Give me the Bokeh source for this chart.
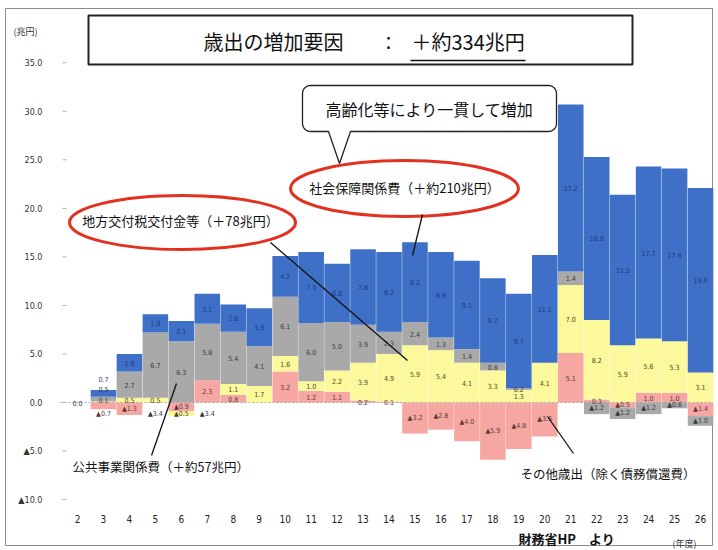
import numpy as np
from bokeh.plotting import figure
from bokeh.models import ColumnDataSource, Range1d, Span
from bokeh.core.properties import value
from bokeh.embed import file_html
from bokeh.resources import INLINE

# ---- data (兆円, change from 平成2年度) ----
years = list(range(2, 27))
other_exp = [0, -0.7, -1.3, 0, -0.9, 2.3, 0.8, 0, 3.2, 1.2, 1.1, 0.2, 0.1,
             -3.2, -2.8, -4.0, -5.9, -4.8, -3.5, 5.1, 0.3, -0.5, 1.0, 1.0, -1.4]
local_tax = [0, 0.1, 0.5, 0.5, -0.5, 0, 1.1, 1.7, 1.6, 1.0, 2.2, 3.9, 4.9,
             5.9, 5.4, 4.1, 3.3, 1.3, 4.1, 7.0, 8.2, 5.9, 5.6, 5.3, 3.1]
public_works = [0, 0.5, 2.7, 6.7, 6.3, 5.8, 5.4, 4.1, 6.1, 6.0, 5.0, 3.9, 2.3,
                2.4, 1.3, 1.4, 0.8, 0.2, 0, 1.4, -1.2, -1.2, -1.2, -0.6, -1.0]
social_security = [0, 0.7, 1.8, 1.9, 2.1, 3.1, 2.8, 3.9, 4.2, 7.3, 6.0, 7.8, 8.2,
                   8.2, 8.8, 9.1, 8.7, 9.7, 11.1, 17.2, 16.8, 15.5, 17.7, 17.8, 19.0]
# printed notes that have no bar of their own
note_years = [5, 7]
note_values = [-3.4, -3.4]

y_ticks = [-10, -5, 0, 5, 10, 15, 20, 25, 30, 35]
y_tick_labels = ["▲10.0", "▲5.0", "0.0", "5.0", "10.0", "15.0", "20.0", "25.0", "30.0", "35.0"]
x_tick_labels = [str(y) for y in years]

# ---- styling ----
BLUE, GRAY, YELLOW, PINK = "#3d70c6", "#a9a9a9", "#fbf99c", "#f7a7a2"
RED = "#e2321f"
JP = value("Noto Sans CJK JP")
NARROW = value("'Liberation Sans Narrow', 'DejaVu Sans Condensed', 'Roboto', sans-serif")

W, H = 718, 550
XS, YS = 25.96, 9.707          # canvas pixels per year / per 兆円
x0 = 2 - 77 / XS               # year 2 sits 77 px from the left edge
ZERO_PX = 402                  # zero line, px from the top


def dx(px):
    return x0 + px / XS


def dy(py):
    return (ZERO_PX - py) / YS


# the frame fills the whole canvas; scale labels are drawn as text in data space
p = figure(width=W, height=H, output_backend="svg", toolbar_location=None,
           x_range=Range1d(dx(0), dx(W)), y_range=Range1d(dy(H), dy(0)),
           min_border=0)
p.axis.visible = False
p.outline_line_color = None
p.grid.visible = False
p.background_fill_color = "white"
p.border_fill_color = "white"

# outer frame line
p.quad(left=[dx(5)], right=[dx(712)], top=[dy(8)], bottom=[dy(545)],
       fill_color=None, line_color="#8c8c8c", line_width=1)

# ---- stacked segments ----
series = [("other", other_exp, PINK, "#5a3a3a"),
          ("local", local_tax, YELLOW, "#4a4a2a"),
          ("public", public_works, GRAY, "#3a3a3a"),
          ("social", social_security, BLUE, "#1d3a80")]
label_y_override = {(3, "local"): 0.25, (3, "public"): 1.4, (3, "social"): 2.4,
                    (3, "other"): -1.15}

seg = dict(x=[], bottom=[], top=[], color=[])
lab = dict(x=[], y=[], text=[], color=[])
for i, yr in enumerate(years):
    pos, neg = 0.0, 0.0
    if all(s[1][i] == 0 for s in series):
        lab["x"].append(yr); lab["y"].append(0.0)
        lab["text"].append("0.0"); lab["color"].append("#3a3a3a")
        continue
    for name, vals, col, tcol in series:
        v = vals[i]
        if v == 0:
            continue
        if v > 0:
            b, t = pos, pos + v
            pos = t
        else:
            b, t = neg + v, neg
            neg = b
        seg["x"].append(yr); seg["bottom"].append(b); seg["top"].append(t)
        seg["color"].append(col)
        lab["x"].append(yr)
        lab["y"].append(label_y_override.get((yr, name), (b + t) / 2))
        lab["text"].append(("▲" if v < 0 else "") + f"{abs(v):.1f}")
        lab["color"].append(tcol)

p.vbar(x="x", width=0.985, bottom="bottom", top="top", fill_color="color",
       line_color=None, source=ColumnDataSource(seg))

# dotted zero line across the bar area
p.line([dx(60), dx(712)], [0, 0], line_color="#8a8a8a", line_width=1,
       line_dash="2 2", line_alpha=0.7)

p.text(x="x", y="y", text="text", text_color="color", source=ColumnDataSource(lab),
       text_font=NARROW, text_font_size="7px", text_align="center",
       text_baseline="middle")
p.text(x=note_years, y=[-1.15] * len(note_years),
       text=["▲" + f"{abs(v):.1f}" for v in note_values],
       text_font=NARROW, text_font_size="7px", text_align="center",
       text_baseline="middle", text_color="#333333")

# ---- value scale (left) and fiscal years (bottom) ----
p.segment(x0=[dx(62)] * len(y_ticks), x1=[dx(66)] * len(y_ticks), y0=y_ticks, y1=y_ticks,
          line_color="#b0b0b0", line_width=1)
p.text(x=[dx(42)] * len(y_ticks), y=y_ticks, text=y_tick_labels, text_font=NARROW,
       text_font_size="9px", text_align="right", text_baseline="middle",
       text_color="#333333")
p.text(x=years, y=[dy(518)] * len(years), text=x_tick_labels, text_font=NARROW,
       text_font_size="10px", text_align="center", text_baseline="middle",
       text_color="#222222")

# ---- title box ----
p.quad(left=[dx(88)], right=[dx(632)], top=[dy(15)], bottom=[dy(64)],
       fill_color="white", line_color="#222222", line_width=2)
p.text(x=[dx(203)], y=[dy(41)], text=["歳出の増加要因"], text_font=JP,
       text_font_size="20px", text_baseline="middle", text_color="#111111")
p.text(x=[dx(388)], y=[dy(41)], text=["："], text_font=JP, text_align="center",
       text_font_size="18px", text_baseline="middle", text_color="#111111")
p.text(x=[dx(411)], y=[dy(41)], text=["＋約334兆円"], text_font=JP,
       text_font_size="20px", text_baseline="middle", text_color="#111111")
p.line([dx(410), dx(525)], [dy(60), dy(60)], line_color="#111111", line_width=1.5)

# ---- speech bubble ----
l, t, r, b, rad = 302, 85, 556, 131, 8
pts = []
for cx, cy, a0, a1 in [(r - rad, t + rad, -90, 0), (r - rad, b - rad, 0, 90)]:
    for a in np.linspace(np.radians(a0), np.radians(a1), 8):
        pts.append((cx + rad * np.cos(a), cy + rad * np.sin(a)))
pts += [(350, b), (339, 163), (328, b)]
for cx, cy, a0, a1 in [(l + rad, b - rad, 90, 180), (l + rad, t + rad, 180, 270)]:
    for a in np.linspace(np.radians(a0), np.radians(a1), 8):
        pts.append((cx + rad * np.cos(a), cy + rad * np.sin(a)))
p.patch([dx(a) for a, _ in pts], [dy(c) for _, c in pts], fill_color="white",
        line_color="#222222", line_width=1.3)
p.text(x=[dx(429)], y=[dy(108)], text=["高齢化等により一貫して増加"], text_font=JP,
       text_font_size="16px", text_align="center", text_baseline="middle",
       text_color="#111111")

# ---- callouts ----
p.ellipse(x=[dx(404), dx(182)], y=[dy(188), dy(222)], width=[228 / XS, 226 / XS],
          height=[56 / YS, 54 / YS], fill_color=None, line_color=RED, line_width=3)
p.text(x=[dx(404), dx(180)], y=[dy(187), dy(220)],
       text=["社会保障関係費（＋約210兆円）", "地方交付税交付金等（＋78兆円）"],
       text_font=JP, text_font_size="13px", text_align="center",
       text_baseline="middle", text_color="#111111")
p.multi_line(xs=[[dx(422), dx(412)], [dx(270), dx(407)], [dx(176), dx(151)], [dx(547), dx(573)]],
             ys=[[dy(214), dy(255)], [dy(242), dy(360)], [dy(383), dy(455)], [dy(416), dy(453)]],
             line_color="#111111", line_width=1.3)
p.text(x=[dx(72), dx(520)], y=[dy(466), dy(473)],
       text=["公共事業関係費（＋約57兆円）", "その他歳出（除く債務償還費）"],
       text_font=JP, text_font_size="12.5px", text_baseline="middle",
       text_color="#111111")

# ---- margin notes ----
p.text(x=[dx(25)], y=[dy(31)], text=["(兆円)"], text_font=JP, text_font_size="9px",
       text_align="center", text_baseline="middle", text_color="#333333")
p.text(x=[dx(518)], y=[dy(538)], text=["財務省HP　より"], text_font=JP,
       text_font_size="13px", text_font_style="bold", text_baseline="middle",
       text_color="#111111")
p.text(x=[dx(684)], y=[dy(543)], text=["(年度)"], text_font=JP, text_font_size="9px",
       text_align="center", text_baseline="middle", text_color="#333333")

open("out.html", "w").write(file_html(p, INLINE))
